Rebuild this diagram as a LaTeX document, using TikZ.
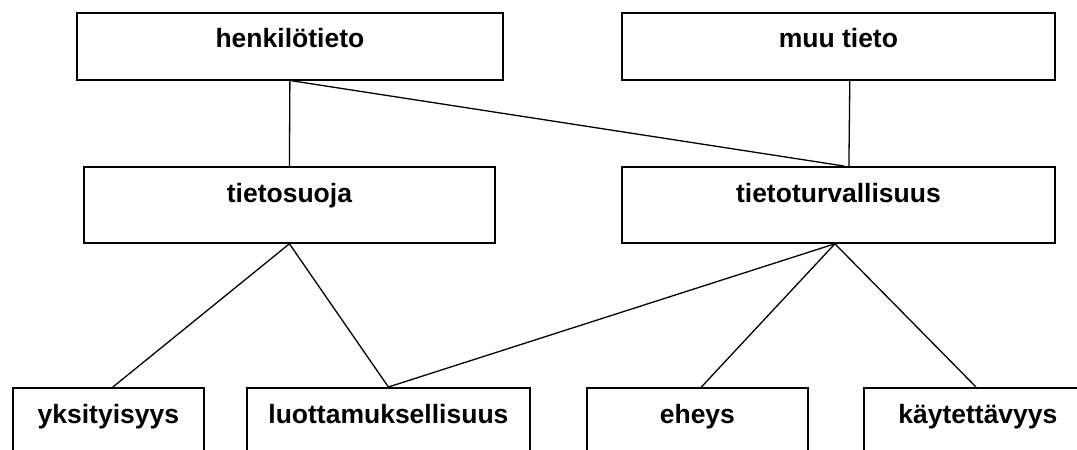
\documentclass[tikz,border=0pt]{standalone}
\usepackage{fontspec}
\setmainfont{Liberation Sans}
\begin{document}
\begin{tikzpicture}[x=1bp,y=-1bp,
  box/.style={draw, line width=1.8bp, inner sep=0pt, anchor=north west,
    font=\fontsize{26.5bp}{30bp}\selectfont\bfseries, align=center},
  conn/.style={line width=1.3bp}]
\useasboundingbox (0,0) rectangle (1077,450);
\fill[white] (0,0) rectangle (1077,450);
\clip (0,0) rectangle (1077,450);
% top level
\node[box, minimum width=426bp, text height=35bp, text depth=32bp] (henk) at (76,12) {henkilötieto};
\node[box, minimum width=433bp, text height=35bp, text depth=32bp] (muu) at (621,12) {muu tieto};
% middle level
\node[box, minimum width=411bp, text height=36bp, text depth=40bp] (suoja) at (83,166) {tietosuoja};
\node[box, minimum width=433bp, text height=36bp, text depth=40bp] (turva) at (621,166) {tietoturvallisuus};
% bottom level
\node[box, minimum width=191bp, text height=36bp, text depth=50bp] (yks) at (12,387) {yksityisyys};
\node[box, minimum width=283bp, text height=36bp, text depth=50bp] (luott) at (246,387) {luottamuksellisuus};
\node[box, minimum width=221bp, text height=36bp, text depth=50bp] (eheys) at (586,387) {eheys};
\node[box, minimum width=228bp, text height=36bp, text depth=50bp] (kayt) at (863,387) {käytettävyys};
% connectors
\draw[conn] (henk.south) -- (suoja.north);
\draw[conn] ([xshift=2bp]henk.south) -- ([xshift=5.5bp]turva.north);
\draw[conn] ([xshift=10.5bp]turva.north) -- ([xshift=-206bp]muu.south east);
\draw[conn] (suoja.south) -- ([xshift=4.5bp]yks.north);
\draw[conn] (suoja.south) -- (luott.north);
\draw[conn] ([xshift=-3.5bp]turva.south) -- (luott.north);
\draw[conn] ([xshift=-3.5bp]turva.south) -- ([xshift=4bp]eheys.north);
\draw[conn] ([xshift=-3.5bp]turva.south) -- ([xshift=113bp]kayt.north west);
\end{tikzpicture}
\end{document}
